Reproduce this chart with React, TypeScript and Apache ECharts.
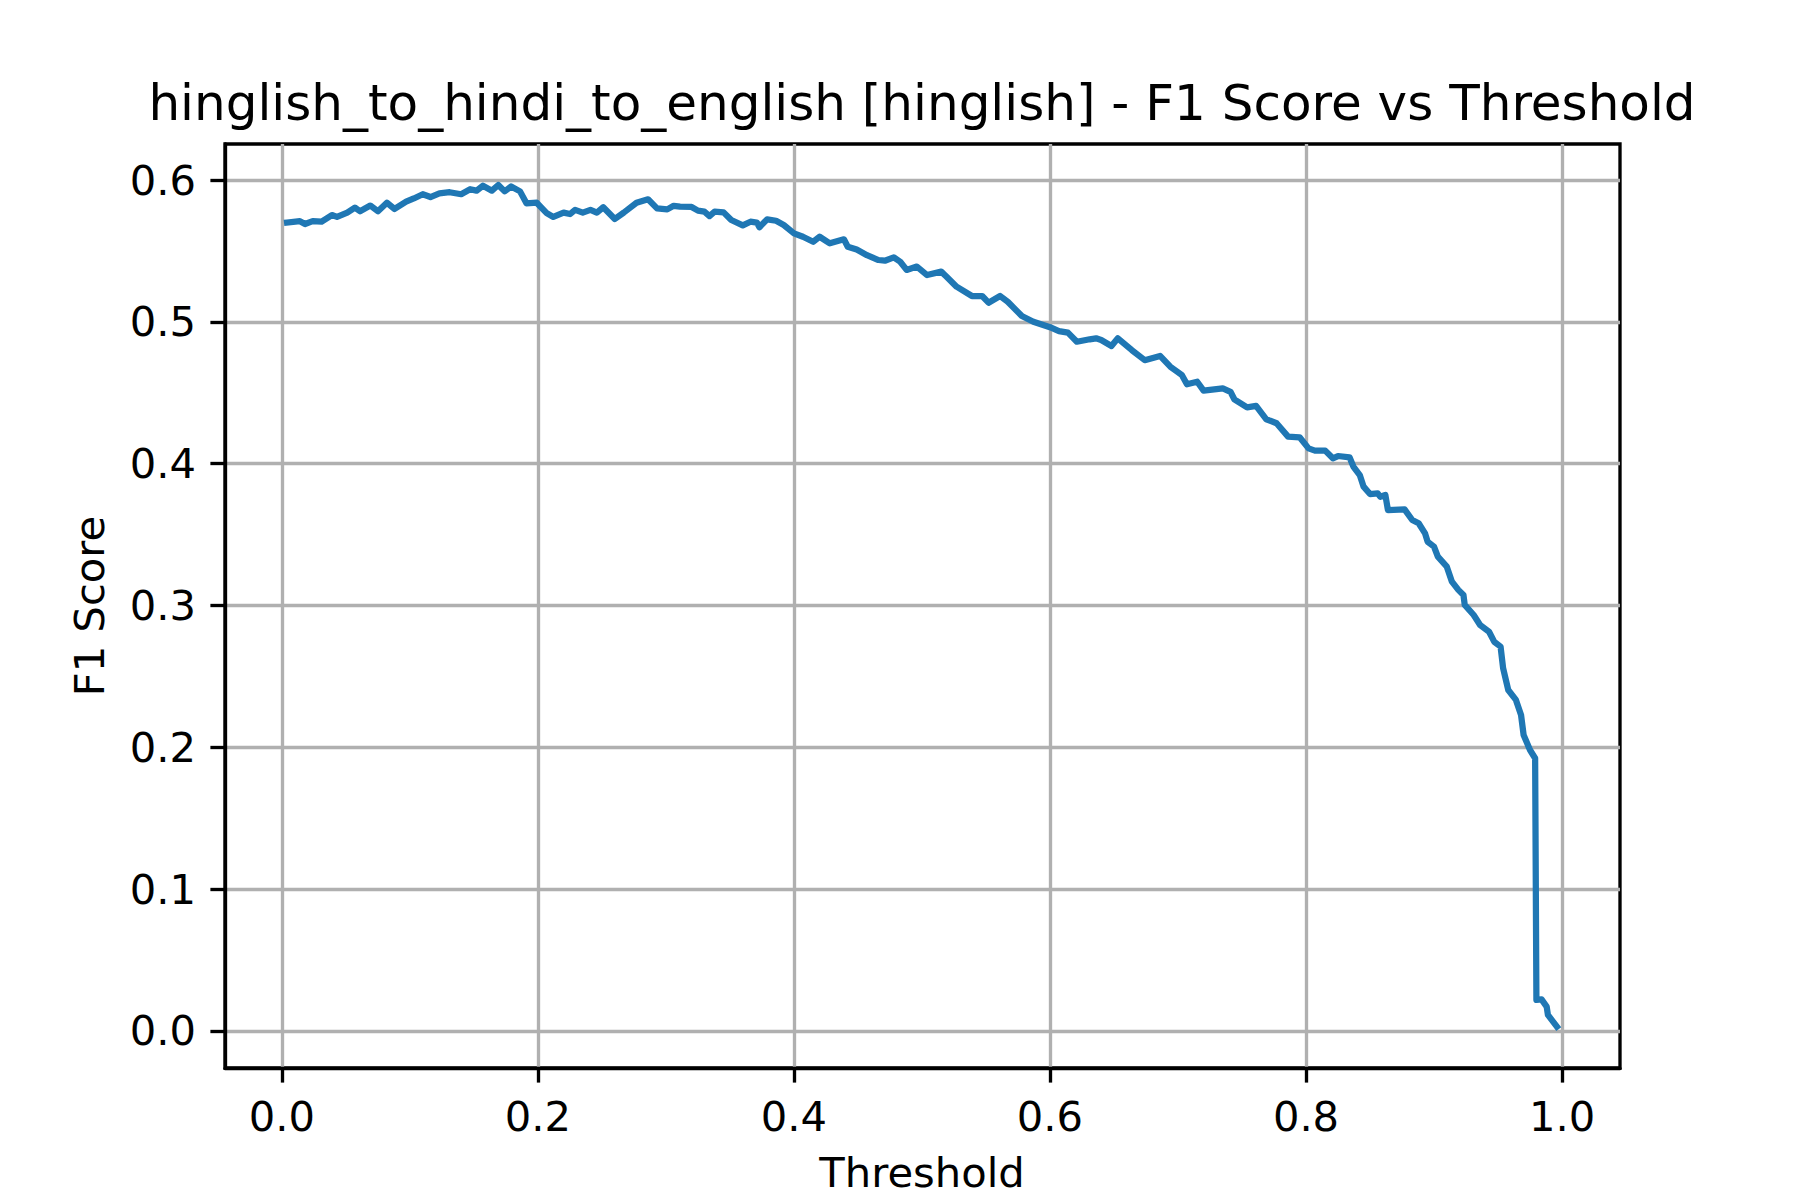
import React, { useEffect, useRef } from "react";
import * as echarts from "echarts";

const titleText = "hinglish_to_hindi_to_english [hinglish] - F1 Score vs Threshold";
const xName = "Threshold";
const yName = "F1 Score";

const xTicks = [0.0, 0.2, 0.4, 0.6, 0.8, 1.0];
const yTicks = [0.0, 0.1, 0.2, 0.3, 0.4, 0.5, 0.6];

const thresholds = [
  0.004, 0.014, 0.018, 0.024, 0.031, 0.039, 0.043, 0.051, 0.057, 0.061,
  0.069, 0.075, 0.082, 0.088, 0.097, 0.103, 0.110, 0.116, 0.123, 0.131,
  0.140, 0.147, 0.152, 0.157, 0.164, 0.169, 0.174, 0.179, 0.186, 0.191,
  0.199, 0.207, 0.212, 0.220, 0.225, 0.229, 0.235, 0.241, 0.246, 0.251,
  0.260, 0.267, 0.277, 0.286, 0.293, 0.301, 0.306, 0.311, 0.320, 0.325,
  0.330, 0.334, 0.338, 0.345, 0.351, 0.360, 0.366, 0.371, 0.373, 0.379,
  0.386, 0.392, 0.400, 0.407, 0.415, 0.420, 0.428, 0.439, 0.442, 0.449,
  0.457, 0.466, 0.471, 0.478, 0.483, 0.488, 0.496, 0.504, 0.515, 0.519,
  0.527, 0.539, 0.547, 0.552, 0.561, 0.567, 0.578, 0.587, 0.600, 0.607,
  0.614, 0.621, 0.631, 0.636, 0.640, 0.648, 0.653, 0.664, 0.674, 0.686,
  0.694, 0.703, 0.707, 0.715, 0.720, 0.735, 0.741, 0.744, 0.754, 0.761,
  0.769, 0.777, 0.786, 0.795, 0.802, 0.807, 0.815, 0.821, 0.825, 0.834,
  0.837, 0.842, 0.845, 0.850, 0.856, 0.858, 0.862, 0.864, 0.877, 0.883,
  0.888, 0.893, 0.895, 0.900, 0.903, 0.910, 0.914, 0.919, 0.923, 0.924,
  0.931, 0.936, 0.943, 0.947, 0.952, 0.954, 0.958, 0.964, 0.968, 0.970,
  0.975, 0.979, 0.980, 0.984, 0.988, 0.989, 0.996,
];

const f1Scores = [
  0.570, 0.571, 0.569, 0.571, 0.5706, 0.5753, 0.574, 0.577, 0.5805, 0.578,
  0.582, 0.578, 0.584, 0.5796, 0.5847, 0.587, 0.590, 0.588, 0.5906, 0.5914,
  0.590, 0.5935, 0.5925, 0.596, 0.5925, 0.5965, 0.592, 0.5955, 0.592, 0.5836,
  0.584, 0.5765, 0.574, 0.577, 0.576, 0.579, 0.577, 0.579, 0.577, 0.5808,
  0.5725, 0.577, 0.584, 0.5864, 0.580, 0.5793, 0.5818, 0.5812, 0.581, 0.5784,
  0.5777, 0.5746, 0.5777, 0.5772, 0.5718, 0.568, 0.5706, 0.570, 0.5667, 0.5723,
  0.5713, 0.5683, 0.5624, 0.560, 0.5565, 0.560, 0.5554, 0.5582, 0.553, 0.551,
  0.547, 0.5436, 0.5431, 0.5455, 0.5424, 0.5366, 0.539, 0.533, 0.5354, 0.532,
  0.5248, 0.5182, 0.5182, 0.5135, 0.5182, 0.5142, 0.5041, 0.5001, 0.4962, 0.4935,
  0.4924, 0.486, 0.4877, 0.4884, 0.4872, 0.483, 0.4884, 0.480, 0.473, 0.476,
  0.4684, 0.4625, 0.456, 0.4578, 0.4515, 0.4531, 0.4507, 0.4454, 0.4397, 0.4407,
  0.4313, 0.4285, 0.4191, 0.4186, 0.4108, 0.4092, 0.4092, 0.4038, 0.4054, 0.4045,
  0.398, 0.392, 0.3838, 0.3786, 0.3791, 0.3767, 0.3779, 0.3673, 0.3678, 0.3603,
  0.358, 0.3509, 0.345, 0.3415, 0.3344, 0.3274, 0.3168, 0.311, 0.3074, 0.3004,
  0.2933, 0.2863, 0.2815, 0.2745, 0.271, 0.2557, 0.2404, 0.2334, 0.2228, 0.2087,
  0.1981, 0.1923, 0.0219, 0.0223, 0.0172, 0.0113, 0.003,
];

const FONT = "DejaVu Sans";

export default function App() {
  const ref = useRef<HTMLDivElement>(null);

  useEffect(() => {
    if (!ref.current) return;
    const chart = echarts.init(ref.current, null, { renderer: "svg" });
    const data = thresholds.map((t, i) => [t, f1Scores[i]]);
    const gridLine = { show: true, lineStyle: { color: "#b0b0b0", width: 3.33 } };
    chart.setOption({
      animation: false,
      backgroundColor: "#ffffff",
      grid: {
        left: 225,
        right: 180,
        top: 144,
        bottom: 132,
        show: true,
        borderColor: "#000000",
        borderWidth: 3.33,
        backgroundColor: "transparent",
      },
      xAxis: {
        type: "value",
        min: -0.0445,
        max: 1.0453,
        axisLine: { show: true, onZero: false, lineStyle: { color: "#000", width: 3.33 } },
        axisTick: {
          show: true,
          length: 14.6,
          customValues: xTicks,
          lineStyle: { color: "#000", width: 3.33 },
        },
        axisLabel: {
          customValues: xTicks,
          margin: 27,
          fontFamily: FONT,
          fontSize: 41.67,
          color: "#000",
          formatter: (v: number) => v.toFixed(1),
        },
        splitLine: gridLine,
      },
      yAxis: {
        type: "value",
        min: -0.0261,
        max: 0.6254,
        axisLine: { show: true, onZero: false, lineStyle: { color: "#000", width: 3.33 } },
        axisTick: {
          show: true,
          length: 14.6,
          customValues: yTicks,
          lineStyle: { color: "#000", width: 3.33 },
        },
        axisLabel: {
          customValues: yTicks,
          margin: 29,
          fontFamily: FONT,
          fontSize: 41.67,
          color: "#000",
          formatter: (v: number) => v.toFixed(1),
        },
        splitLine: gridLine,
      },
      graphic: [
        {
          type: "text",
          x: 922,
          y: 103,
          style: {
            text: titleText,
            fontFamily: FONT,
            fontSize: 50,
            fill: "#000",
            textAlign: "center",
            textVerticalAlign: "middle",
          },
        },
        {
          type: "text",
          x: 922,
          y: 1172.5,
          style: {
            text: xName,
            fontFamily: FONT,
            fontSize: 41.67,
            fill: "#000",
            textAlign: "center",
            textVerticalAlign: "middle",
          },
        },
        {
          type: "text",
          x: 89.5,
          y: 606,
          rotation: Math.PI / 2,
          style: {
            text: yName,
            fontFamily: FONT,
            fontSize: 41.67,
            fill: "#000",
            textAlign: "center",
            textVerticalAlign: "middle",
          },
        },
      ],
      series: [
        {
          type: "line",
          data,
          showSymbol: false,
          symbol: "none",
          clip: true,
          z: 5,
          lineStyle: { color: "#1f77b4", width: 6.25, join: "round", cap: "square" },
        },
      ],
    });
    return () => chart.dispose();
  }, []);

  return (
    <div
      ref={ref}
      style={{ position: "absolute", left: 0, top: 0, width: 1800, height: 1200 }}
    />
  );
}
